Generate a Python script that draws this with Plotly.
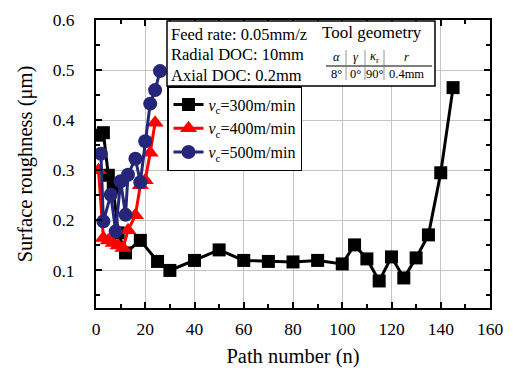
import plotly.graph_objects as go

# ---- data ----
x300 = [1, 3, 5, 7, 9, 12, 18, 25, 30, 40, 50, 60, 70, 80, 90, 100, 105, 110, 115, 120, 125, 130, 135, 140, 145]
y300 = [0.37, 0.375, 0.29, 0.265, 0.175, 0.135, 0.16, 0.118, 0.10, 0.12, 0.141, 0.12, 0.118, 0.117, 0.12,
        0.113, 0.151, 0.123, 0.079, 0.127, 0.085, 0.125, 0.171, 0.295, 0.465]
x400 = [1, 3, 5, 7, 9, 11, 13, 16, 18, 20, 22, 24]
y400 = [0.30, 0.165, 0.16, 0.155, 0.15, 0.145, 0.18, 0.21, 0.27, 0.28, 0.335, 0.395]
x500 = [2, 3, 6, 8, 10, 12, 13, 16, 18, 20, 22, 24, 26]
y500 = [0.333, 0.198, 0.251, 0.178, 0.278, 0.211, 0.291, 0.323, 0.276, 0.358, 0.433, 0.46, 0.498]

names = ["<i>v</i><sub>c</sub>=300m/min", "<i>v</i><sub>c</sub>=400m/min", "<i>v</i><sub>c</sub>=500m/min"]
geom_head = ["<i>α</i>", "<i>γ</i>", "<i>κ</i><sub>r</sub>", "<i>r</i>"]
geom_vals = ["8°", "0°", "90°", "0.4mm"]
cond_lines = ["Feed rate: 0.05mm/z", "Radial DOC: 10mm", "Axial DOC: 0.2mm"]

FONT = "Liberation Serif"
W, H = 513, 370
L, R, T, B = 96, 490, 20, 308

def px(x):
    return (x - L) / (R - L)

def py(y):
    return 1 - (y - T) / (B - T)

fig = go.Figure()
fig.add_trace(go.Scatter(x=x300, y=y300, mode="lines+markers", name=names[0],
                         line=dict(color="black", width=3),
                         marker=dict(symbol="square", size=13, color="black")))
fig.add_trace(go.Scatter(x=x400, y=y400, mode="lines+markers", name=names[1],
                         line=dict(color="#ff0000", width=3),
                         marker=dict(symbol="triangle-up", size=15, color="#ff0000")))
fig.add_trace(go.Scatter(x=x500, y=y500, mode="lines+markers", name=names[2],
                         line=dict(color="#25267a", width=3),
                         marker=dict(symbol="circle", size=14, color="#25267a")))

axis_common = dict(showline=True, linecolor="black", linewidth=2, mirror="allticks",
                   ticks="inside", ticklen=6, tickwidth=2, tickcolor="black",
                   showgrid=True, gridcolor="#c4c4c4", gridwidth=1, zeroline=False,
                   automargin=False,
                   tickfont=dict(family=FONT, size=17.5, color="black"))

fig.update_xaxes(range=[0, 160], dtick=20, tick0=0, ticklabelstandoff=4,
                 minor=dict(dtick=10, ticks="inside", ticklen=4, tickcolor="black", showgrid=False),
                 title=dict(text="Path number (n)", font=dict(family=FONT, size=20.5, color="black"), standoff=11),
                 **axis_common)
fig.update_yaxes(range=[0.025, 0.6], tickvals=[0.1, 0.2, 0.3, 0.4, 0.5, 0.6], tickformat=".1f",
                 ticklabelstandoff=16,
                 minor=dict(tickvals=[0.05, 0.15, 0.25, 0.35, 0.45, 0.55], ticks="inside", ticklen=4,
                            tickcolor="black", showgrid=False),
                 title=dict(text="Surface roughness (μm)", font=dict(family=FONT, size=20.5, color="black"), standoff=14),
                 **axis_common)

shapes = []
# condition box
shapes.append(dict(type="rect", xref="paper", yref="paper", x0=px(167), x1=px(435), y0=py(86), y1=py(21),
                   line=dict(color="black", width=1.5), fillcolor="white", layer="above"))
# geometry table rules
shapes.append(dict(type="line", xref="paper", yref="paper", x0=px(326), x1=px(432), y0=py(66), y1=py(66),
                   line=dict(color="black", width=1), layer="above"))
for sx in [346, 365, 384]:
    shapes.append(dict(type="line", xref="paper", yref="paper", x0=px(sx), x1=px(sx), y0=py(50), y1=py(80),
                       line=dict(color="#777777", width=0.8), layer="above"))

annotations = []
for i, t in enumerate(cond_lines):
    annotations.append(dict(text=t, xref="paper", yref="paper", x=px(169), y=py(34 + 20.5 * i),
                            xanchor="left", yanchor="middle", showarrow=False,
                            font=dict(family=FONT, size=16.5, color="black")))
annotations.append(dict(text="Tool geometry", xref="paper", yref="paper", x=px(372), y=py(33),
                        xanchor="center", yanchor="middle", showarrow=False,
                        font=dict(family=FONT, size=17, color="black")))
cols = [336, 355.5, 374.5, 406]
for c, h, v in zip(cols, geom_head, geom_vals):
    annotations.append(dict(text=h, xref="paper", yref="paper", x=px(c), y=py(57),
                            xanchor="center", yanchor="middle", showarrow=False,
                            font=dict(family=FONT, size=12.5, color="black")))
    annotations.append(dict(text=v, xref="paper", yref="paper", x=px(c), y=py(74),
                            xanchor="center", yanchor="middle", showarrow=False,
                            font=dict(family=FONT, size=12.5, color="black")))

fig.update_layout(
    width=W, height=H,
    margin=dict(l=L, r=W - R, t=T, b=H - B, pad=0),
    paper_bgcolor="white", plot_bgcolor="white",
    font=dict(family=FONT, size=16, color="black"),
    showlegend=True,
    legend=dict(x=px(167), y=py(86), xanchor="left", yanchor="top",
                bordercolor="black", borderwidth=1.5, bgcolor="white",
                font=dict(family=FONT, size=16, color="black"),
                tracegroupgap=0, itemwidth=30),
    shapes=shapes, annotations=annotations,
)

fig.write_html("out.html")
